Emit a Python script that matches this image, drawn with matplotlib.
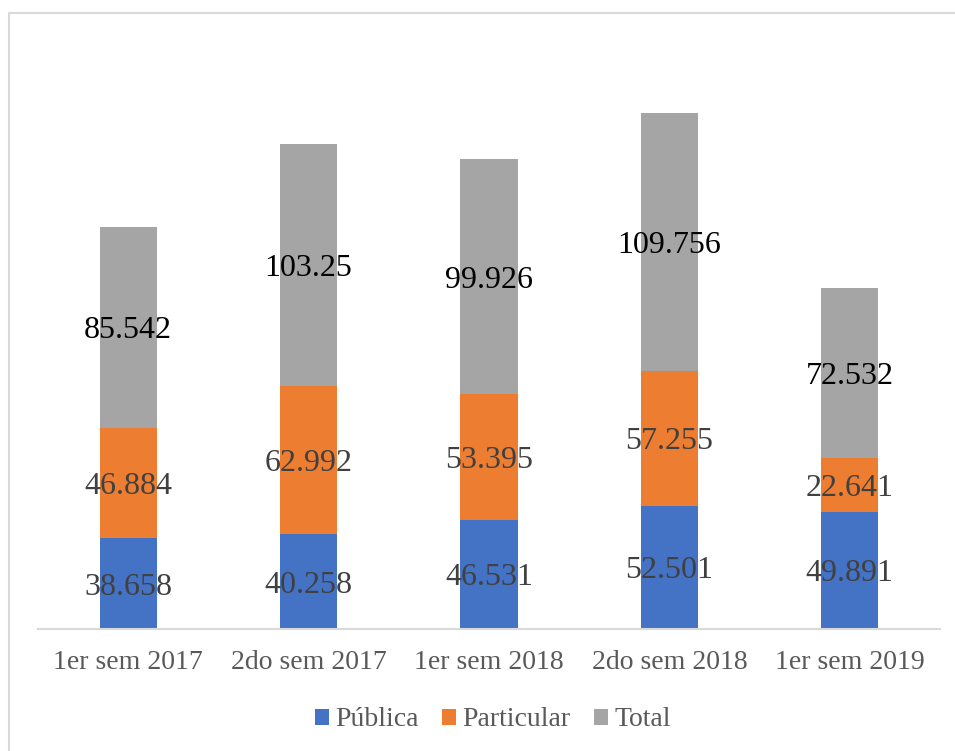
import numpy as np
import matplotlib.pyplot as plt
from matplotlib.lines import Line2D

# Datos
semestres = ['1er sem 2017', '2do sem 2017', '1er sem 2018', '2do sem 2018', '1er sem 2019']
publica = [38.658, 40.258, 46.531, 52.501, 49.891]
particular = [46.884, 62.992, 53.395, 57.255, 22.641]
total = [85.542, 103.25, 99.926, 109.756, 72.532]
etiquetas_publica = ['38.658', '40.258', '46.531', '52.501', '49.891']
etiquetas_particular = ['46.884', '62.992', '53.395', '57.255', '22.641']
etiquetas_total = ['85.542', '103.25', '99.926', '109.756', '72.532']

plt.rcParams['font.family'] = ['Liberation Serif', 'DejaVu Serif']

fig = plt.figure(figsize=(9.55, 7.51), dpi=100)
# borde del gráfico (solo arriba e izquierda son visibles)
fig.lines.append(Line2D([8.5/955, 8.5/955, 1.0], [0, 1 - 12.5/751, 1 - 12.5/751],
                        transform=fig.transFigure, color='#D9D9D9', linewidth=1.5))

ax = fig.add_axes([38/955, (751-629)/751, 902/955, 250*2.351/751])

x = np.arange(len(semestres))
w = 0.316
p = np.array(publica)
q = np.array(particular)
t = np.array(total)

ax.bar(x, p, w, color='#4472C4', label='Pública')
ax.bar(x, q, w, bottom=p, color='#ED7D31', label='Particular')
ax.bar(x, t, w, bottom=p + q, color='#A5A5A5', label='Total')

for i in range(len(x)):
    ax.text(x[i], p[i] / 2 - 1.5, etiquetas_publica[i], ha='center', va='center', fontsize=23, color='#404040')
    ax.text(x[i], p[i] + q[i] / 2 - 1.5, etiquetas_particular[i], ha='center', va='center', fontsize=23, color='#404040')
    ax.text(x[i], p[i] + q[i] + t[i] / 2 - 1.5, etiquetas_total[i], ha='center', va='center', fontsize=23, color='black')

ax.set_xlim(-0.5, 4.5)
ax.set_ylim(0, 250)
ax.set_xticks(x)
ax.set_xticklabels(semestres, fontsize=20, color='#595959')
ax.tick_params(axis='x', length=0, pad=15)
ax.set_yticks([])
for s in ['top', 'left', 'right']:
    ax.spines[s].set_visible(False)
ax.spines['bottom'].set_color('#D9D9D9')
ax.spines['bottom'].set_linewidth(1.5)

leg = fig.legend(loc='center', bbox_to_anchor=(493/955, 1 - 720/751), ncol=3, frameon=False,
                 fontsize=20, handlelength=0.5, handleheight=0.5, handletextpad=0.22,
                 columnspacing=0.86, borderpad=0)
for txt in leg.get_texts():
    txt.set_color('#595959')

fig.savefig('out.png', dpi=100)
